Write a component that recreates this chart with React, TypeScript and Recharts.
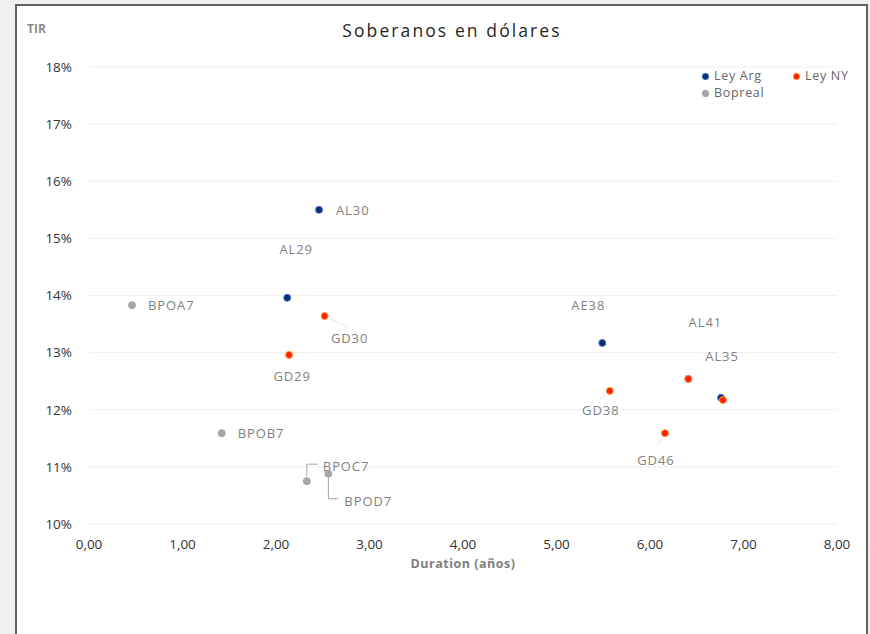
import React from 'react';
import { ScatterChart, Scatter, XAxis, YAxis, CartesianGrid } from 'recharts';

// ---- data ----
const leyArgNames = ['AL30', 'AL29', 'AE38', 'AL41', 'AL35'];
const leyArgDuration = [2.46, 2.12, 5.49, 6.41, 6.76];
const leyArgTir = [15.5, 13.96, 13.17, 12.54, 12.21];

const leyNyNames = ['GD30', 'GD29', 'GD38', 'GD46', 'GD41', 'GD35'];
const leyNyDuration = [2.52, 2.14, 5.57, 6.16, 6.41, 6.78];
const leyNyTir = [13.64, 12.96, 12.33, 11.59, 12.54, 12.17];

const bopNames = ['BPOA7', 'BPOB7', 'BPOC7', 'BPOD7'];
const bopDuration = [0.46, 1.42, 2.33, 2.56];
const bopTir = [13.83, 11.59, 10.75, 10.88];

const xTicks = [0, 1, 2, 3, 4, 5, 6, 7, 8];
const yTicks = [10, 11, 12, 13, 14, 15, 16, 17, 18];

const seriesNames = ['Ley Arg', 'Ley NY', 'Bopreal'];

// ---- label layout (styling only) ----
type LabelLayout = { dx: number; dy: number; anchor: 'start' | 'middle' | 'end'; show?: boolean; leader?: string };
const labelLayout: Record<string, LabelLayout> = {
  AL30: { dx: 17, dy: 0, anchor: 'start' },
  AL29: { dx: 9, dy: -49, anchor: 'middle' },
  AE38: { dx: -14, dy: -38, anchor: 'middle' },
  AL41: { dx: 17, dy: -57, anchor: 'middle' },
  AL35: { dx: 1, dy: -42, anchor: 'middle' },
  GD30: { dx: 25, dy: 22, anchor: 'middle', leader: 'M5,2 L23,11' },
  GD29: { dx: 3, dy: 21, anchor: 'middle' },
  GD38: { dx: -9, dy: 19, anchor: 'middle', leader: 'M-4,4 L-10,9' },
  GD46: { dx: -9, dy: 27, anchor: 'middle', leader: 'M-3,5 L-8,13' },
  GD41: { dx: 0, dy: 0, anchor: 'middle', show: false },
  GD35: { dx: 0, dy: 0, anchor: 'middle', show: false },
  BPOA7: { dx: 16, dy: 0, anchor: 'start' },
  BPOB7: { dx: 16, dy: 0, anchor: 'start' },
  BPOC7: { dx: 16, dy: -15, anchor: 'start', leader: 'M0,-5 L0,-17 L11,-17' },
  BPOD7: { dx: 16, dy: 27, anchor: 'start', leader: 'M0,4 L0,25 L10,25' },
};

const build = (names: string[], xs: number[], ys: number[]) =>
  names.map((name, i) => ({ name, x: xs[i], y: ys[i] }));

const leyArgData = build(leyArgNames, leyArgDuration, leyArgTir);
const leyNyData = build(leyNyNames, leyNyDuration, leyNyTir);
const bopData = build(bopNames, bopDuration, bopTir);

const FONT = '"Open Sans", "DejaVu Sans", sans-serif';
const LABEL_COLOR = '#7f7f7f';

const markerStyles = [
  { fill: '#0b2d75', stroke: '#4a74c4' },
  { fill: '#ff1e00', stroke: '#ffa040' },
  { fill: '#a6a6a6', stroke: '#a6a6a6' },
];

const makeShape = (style: { fill: string; stroke: string }) => (props: any) => {
  const { cx, cy, payload } = props;
  if (cx == null || cy == null) return null;
  const lay = labelLayout[payload.name];
  return (
    <g>
      <circle cx={cx} cy={cy} r={3.5} fill={style.fill} stroke={style.stroke} strokeWidth={1} />
      {lay && lay.leader ? (
        <path d={lay.leader} transform={`translate(${cx},${cy})`} fill="none" stroke={payload.name.startsWith('BPO') ? '#a6a6a6' : '#e6e6e6'} strokeWidth={1} />
      ) : null}
      {lay && lay.show !== false ? (
        <text
          x={cx + lay.dx}
          y={cy + lay.dy}
          textAnchor={lay.anchor}
          dominantBaseline="central"
          fontFamily={FONT}
          fontSize={13}
          letterSpacing={0.9}
          fill={LABEL_COLOR}
        >
          {payload.name}
        </text>
      ) : null}
    </g>
  );
};

const LegendDot = ({ color, stroke }: { color: string; stroke: string }) => (
  <svg width={9} height={9} style={{ marginRight: 4, verticalAlign: 'middle' }}>
    <circle cx={4.5} cy={4.5} r={3.2} fill={color} stroke={stroke} strokeWidth={1} />
  </svg>
);

export default function App() {
  return (
    <div style={{ position: 'absolute', left: 0, top: 0, width: 870, height: 634, background: '#f0f0f0', overflow: 'hidden' }}>
      <div
        style={{
          position: 'absolute',
          left: 15,
          top: 4,
          width: 853,
          height: 700,
          background: '#ffffff',
          border: '2px solid #606060',
          boxSizing: 'border-box',
        }}
      />
      <div
        style={{
          position: 'absolute',
          left: 0,
          width: 904,
          top: 18,
          textAlign: 'center',
          fontFamily: FONT,
          fontSize: 17.5,
          letterSpacing: 2.1,
          color: '#262626',
        }}
      >
        Soberanos en dólares
      </div>
      <div style={{ position: 'absolute', left: 27, top: 20, fontFamily: FONT, fontSize: 12, fontWeight: 700, color: '#8a8a8a' }}>
        TIR
      </div>
      <div
        style={{
          position: 'absolute',
          left: 0,
          width: 926,
          top: 555,
          textAlign: 'center',
          fontFamily: FONT,
          fontSize: 12.5,
          letterSpacing: 0.5,
          fontWeight: 700,
          color: '#808080',
        }}
      >
        Duration (años)
      </div>
      <div style={{ position: 'absolute', left: 701, top: 68, fontFamily: FONT, fontSize: 12.5, letterSpacing: 0.7, color: '#666', lineHeight: '16px' }}>
        <div style={{ display: 'flex', height: 16 }}>
          <span style={{ width: 91, whiteSpace: 'nowrap', lineHeight: '16px' }}>
            <LegendDot color={markerStyles[0].fill} stroke={markerStyles[0].stroke} />
            {seriesNames[0]}
          </span>
          <span style={{ whiteSpace: 'nowrap', lineHeight: '16px' }}>
            <LegendDot color={markerStyles[1].fill} stroke={markerStyles[1].stroke} />
            {seriesNames[1]}
          </span>
        </div>
        <div style={{ whiteSpace: 'nowrap', height: 16, marginTop: 1 }}>
          <LegendDot color={markerStyles[2].fill} stroke={markerStyles[2].stroke} />
          {seriesNames[2]}
        </div>
      </div>
      <div style={{ position: 'absolute', left: 0, top: 0 }}>
        <ScatterChart width={870} height={634} margin={{ top: 67, right: 33, bottom: 80, left: 0 }}>
          <CartesianGrid vertical={false} stroke="#efefef" />
          <XAxis
            type="number"
            dataKey="x"
            domain={[0, 8]}
            ticks={xTicks}
            tickFormatter={(v: number) => v.toFixed(2).replace('.', ',')}
            axisLine={false}
            tickLine={false}
            tickMargin={9}
            height={30}
            tick={{ fontFamily: FONT, fontSize: 13.5, fill: '#333' }}
            interval={0}
          />
          <YAxis
            type="number"
            dataKey="y"
            domain={[10, 18]}
            ticks={yTicks}
            tickFormatter={(v: number) => `${v}%`}
            axisLine={false}
            tickLine={false}
            tickMargin={11}
            width={89}
            tick={{ fontFamily: FONT, fontSize: 13.5, fill: '#333' }}
            interval={0}
          />
          <Scatter name={seriesNames[0]} data={leyArgData} isAnimationActive={false} shape={makeShape(markerStyles[0])} />
          <Scatter name={seriesNames[1]} data={leyNyData} isAnimationActive={false} shape={makeShape(markerStyles[1])} />
          <Scatter name={seriesNames[2]} data={bopData} isAnimationActive={false} shape={makeShape(markerStyles[2])} />
        </ScatterChart>
      </div>
    </div>
  );
}
